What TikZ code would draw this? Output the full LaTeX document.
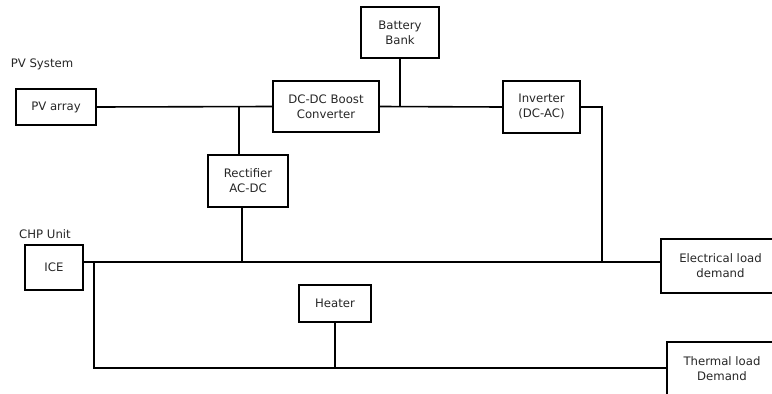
\documentclass[tikz,border=0pt]{standalone}
\usepackage{fontspec}
\setmainfont{DejaVu Sans}
\begin{document}
\begin{tikzpicture}[x=1pt,y=-1pt,
  blk/.style={draw,line width=1.6pt,inner sep=0pt,align=center,font=\fontsize{11.7}{15}\selectfont,text=black!85},
  lbl/.style={inner sep=0pt,font=\fontsize{11.7}{15}\selectfont,text=black!85},
  wire/.style={line width=1.6pt}]
\useasboundingbox (0,0) rectangle (772,394);
\node[blk,minimum width=80pt,minimum height=36pt] (pv) at (56,107) {PV array};
\node[blk,minimum width=106pt,minimum height=51pt] (dcdc) at (326,106.5) {DC-DC Boost\\Converter};
\node[blk,minimum width=78pt,minimum height=51pt] (bat) at (400,32.5) {Battery\\Bank};
\node[blk,minimum width=80pt,minimum height=52pt] (rect) at (248,181) {Rectifier\\AC-DC};
\node[blk,minimum width=77pt,minimum height=52pt] (inv) at (541.5,107) {Inverter\\(DC-AC)};
\node[blk,minimum width=58pt,minimum height=45pt] (ice) at (54,267.5) {ICE};
\node[blk,minimum width=72pt,minimum height=37pt] (heater) at (335,303.5) {Heater};
\node[blk,minimum width=119pt,minimum height=54pt] (elec) at (720.5,266) {Electrical load\\demand};
\node[blk,minimum width=110pt,minimum height=54pt] (therm) at (722,369) {Thermal load\\Demand};
\node[lbl] (pvs) at (42,64) {PV System};
\node[lbl] (chp) at (45,234) {CHP Unit};
\coordinate (j1) at (239,107);
\coordinate (j2) at (242,262);
\coordinate (j3) at (602,262);
\coordinate (j4) at (94,262);
\coordinate (j5) at (94,368);
\draw[wire] (pv.east) -- (dcdc.west);
\draw[wire] (dcdc.east) -- (inv.west);
\draw[wire] (bat.south) -- (bat.south |- dcdc.east);
\draw[wire] (j1) -- (rect.north -| j1);
\draw[wire] (rect.south -| j2) -- (j2);
\draw[wire] (inv.east) -- (inv.east -| j3) -- (j3);
\draw[wire] (ice.east |- j2) -- (elec.west |- j2);
\draw[wire] (j4) -- (j5) -- (j5 -| therm.west);
\draw[wire] (heater.south) -- (heater.south |- j5);
\end{tikzpicture}
\end{document}
